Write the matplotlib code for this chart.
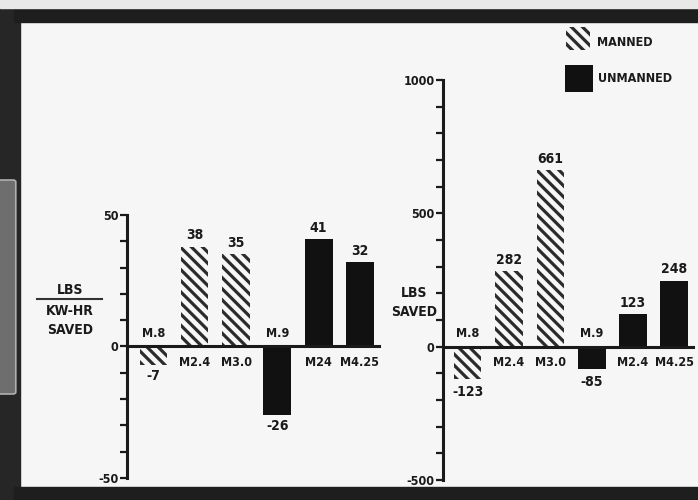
import matplotlib.pyplot as plt
from matplotlib.patches import Rectangle, FancyBboxPatch
from matplotlib.lines import Line2D

plt.rcParams['font.family'] = ['DejaVu Sans']
plt.rcParams['font.stretch'] = 'condensed'
plt.rcParams['font.weight'] = 'bold'
plt.rcParams['axes.unicode_minus'] = False
plt.rcParams['hatch.linewidth'] = 2.3
plt.rcParams['hatch.color'] = '#2b2b2b'

# data
cats_left = ['M.8', 'M2.4', 'M3.0', 'M.9', 'M24', 'M4.25']
kwhr_saved = [-7, 38, 35, -26, 41, 32]
cats_right = ['M.8', 'M2.4', 'M3.0', 'M.9', 'M2.4', 'M4.25']
lbs_saved = [-123, 282, 661, -85, 123, 248]
manned = [True, True, True, False, False, False]

W, H = 698, 500
HATCH = '\\\\\\'
fig = plt.figure(figsize=(W / 100, H / 100), dpi=100, facecolor='#f6f6f6')


def px(x, y):
    return x / W, 1 - y / H


def frac_box(x0, y0, x1, y1):
    return [x0 / W, 1 - y1 / H, (x1 - x0) / W, (y1 - y0) / H]


# photo frame around the chart
fig.patches.append(Rectangle((0, 0), 20 / W, 1, transform=fig.transFigure,
                             color='#262626', zorder=0))
fig.patches.append(FancyBboxPatch((1 / W, 1 - 392 / H), 12 / W, 210 / H,
                                  boxstyle='round,pad=0.004', transform=fig.transFigure,
                                  fc='#6e6e6e', ec='#b0b0b0', lw=1.2, zorder=0))
fig.patches.append(Rectangle((14 / W, 1 - 22 / H), 1, 13 / H, transform=fig.transFigure,
                             color='#1e1e1e', zorder=0))
fig.patches.append(Rectangle((14 / W, 0), 1, 13 / H, transform=fig.transFigure,
                             color='#1e1e1e', zorder=0))
fig.patches.append(Rectangle((0, 1 - 8 / H), 1, 8 / H, transform=fig.transFigure,
                             color='#e8e8e8', zorder=0))


def panel(box, cats, vals, ylim, major, minor, xlim, lab_off, val_off):
    ax = fig.add_axes(box)
    ax.set_facecolor('none')
    x = list(range(1, len(vals) + 1))
    for xi, v, m in zip(x, vals, manned):
        if m:
            ax.bar(xi, v, width=0.66, color='none', hatch=HATCH, edgecolor='#2b2b2b',
                   linewidth=0, zorder=2)
        else:
            ax.bar(xi, v, width=0.68, color='#111111', zorder=2)
        if v >= 0:
            ax.annotate(str(v), (xi, v), xytext=(0, 3), textcoords='offset points',
                        ha='center', va='bottom', fontsize=10, color='#1a1a1a')
            ax.annotate(cats[xi - 1], (xi, 0), xytext=(0, -lab_off), textcoords='offset points',
                        ha='center', va='top', fontsize=9, color='#1a1a1a')
        else:
            ax.annotate(str(v), (xi, v), xytext=(0, -val_off), textcoords='offset points',
                        ha='center', va='top', fontsize=10, color='#1a1a1a')
            ax.annotate(cats[xi - 1], (xi, 0), xytext=(0, 5), textcoords='offset points',
                        ha='center', va='bottom', fontsize=9, color='#1a1a1a')
    ax.plot([xlim[0], len(vals) + 0.45], [0, 0], color='#1a1a1a', lw=2.2, zorder=3,
            clip_on=False)
    ax.set_xlim(*xlim)
    ax.set_ylim(*ylim)
    for s in ['top', 'right', 'bottom']:
        ax.spines[s].set_visible(False)
    ax.spines['left'].set_linewidth(2.2)
    ax.spines['left'].set_color('#1a1a1a')
    ax.set_xticks([])
    ax.set_yticks(major)
    ax.set_yticks(minor, minor=True)
    ax.tick_params(axis='y', which='both', length=5, width=1.6, color='#1a1a1a',
                   labelsize=9, pad=1, labelcolor='#1a1a1a')
    return ax


panel(frac_box(127, 215, 393, 478), cats_left, kwhr_saved, (-50, 50),
      [-50, 0, 50], list(range(-40, 50, 10)), (0.36, 6.8), 7, 3)
panel(frac_box(443, 80, 695, 480), cats_right, lbs_saved, (-500, 1000),
      [-500, 0, 500, 1000], list(range(-400, 1000, 100)), (0.40, 6.5), 7, 4)

# axis titles
fig.text(*px(70, 290), 'LBS', ha='center', va='center', fontsize=10, color='#1a1a1a')
fig.lines.append(Line2D([37 / W, 102 / W], [1 - 299 / H, 1 - 299 / H],
                        transform=fig.transFigure, color='#333333', lw=1.5))
fig.text(*px(70, 311), 'KW-HR', ha='center', va='center', fontsize=10, color='#1a1a1a')
fig.text(*px(70, 330), 'SAVED', ha='center', va='center', fontsize=10, color='#1a1a1a')
fig.text(*px(414, 293), 'LBS', ha='center', va='center', fontsize=10, color='#1a1a1a')
fig.text(*px(414, 312), 'SAVED', ha='center', va='center', fontsize=10, color='#1a1a1a')

# legend
fig.patches.append(Rectangle(px(566, 50), 24 / W, 23 / H, transform=fig.transFigure,
                             fc='none', hatch=HATCH, ec='#2b2b2b', lw=0))
fig.text(*px(597, 43), 'MANNED', ha='left', va='center', fontsize=9, color='#1a1a1a')
fig.patches.append(Rectangle(px(565, 92), 28 / W, 27 / H, transform=fig.transFigure,
                             fc='#111111', ec='none'))
fig.text(*px(598, 78), 'UNMANNED', ha='left', va='center', fontsize=9, color='#1a1a1a')

fig.savefig('out.png', dpi=100, facecolor=fig.get_facecolor())
